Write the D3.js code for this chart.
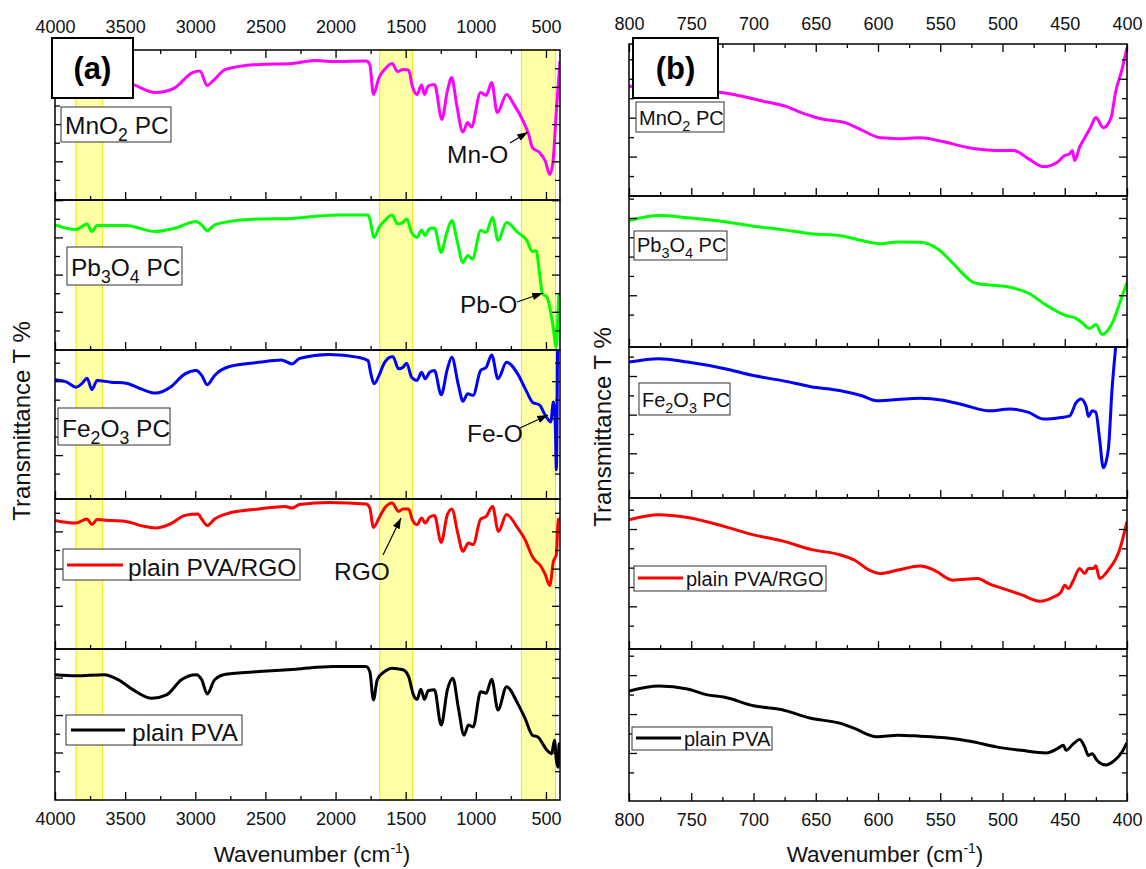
<!DOCTYPE html>
<html><head><meta charset="utf-8">
<script src="https://cdn.jsdelivr.net/npm/d3@7"></script>
<style>body{margin:0;background:#fff;} svg{display:block;font-family:"Liberation Sans",Arial,sans-serif;}</style>
</head><body><svg id="c" width="1146" height="869"></svg>
<script>
// ---------- DATA ----------
const tickLabelsA = [4000,3500,3000,2500,2000,1500,1000,500];
const tickLabelsB = [800,750,700,650,600,550,500,450,400];
const bandsA = [[3850,3660],[1685,1450],[675,432]];
const sampleNames = ["MnO2 PC","Pb3O4 PC","Fe2O3 PC","plain PVA/RGO","plain PVA"];
const seriesColors = ["#ff00ff","#00ff00","#0000ff","#ff0000","#000000"];

const mno2A = [[4000,62],[3800,61],[3600,60],[3449,57.8],[3284,53.7],[3152,55.8],[3020,63.7],[2967,64.5],[2915,57.3],[2875,59.5],[2783,65.3],[2546,67.8],[2309,68.3],[2151,69.8],[2019,69.2],[1782,69.5],[1756,67.8],[1730,52.8],[1690,61.2],[1650,65.3],[1597,68.3],[1558,64.2],[1519,65.3],[1479,65],[1453,57],[1419,52.8],[1387,57.5],[1366,52.8],[1340,57],[1295,57.8],[1242,40.3],[1203,54.5],[1172,61.2],[1137,47.8],[1092,34],[1058,38.7],[1032,36.5],[966,53.7],[926,52.3],[887,58.7],[847,43.7],[781,52.8],[729,47.8],[663,39.5],[623,32.8],[597,26.2],[545,23.7],[505,19.5],[473,12.8],[452,17.8],[426,44.5],[400,69.5]];
const pb3o4A = [[4000,62.5],[3850,60.2],[3771,63],[3737,59.2],[3700,62.2],[3600,62.2],[3494,62.2],[3284,59.2],[3152,60.8],[2994,64.2],[2954,62.5],[2915,59.7],[2862,62.5],[2757,64.2],[2546,65.5],[2309,65.8],[2151,66.8],[1967,67.5],[1769,67.5],[1756,65.5],[1725,56.3],[1690,61.3],[1650,64.7],[1597,67.5],[1558,63],[1519,63.8],[1493,65.5],[1458,58.8],[1419,56.3],[1387,60],[1361,57.2],[1334,60.5],[1295,61],[1247,48.8],[1210,58],[1171,64.7],[1131,53.8],[1092,43.8],[1058,47.2],[1024,45.5],[966,59.7],[926,58.8],[881,66.3],[842,54.7],[781,63.8],[702,58.8],[636,54.7],[597,49.2],[571,49.7],[545,38],[526,28.3],[492,26.3],[452,13],[426,1.3],[407,28],[400,28]];
const fe2o3A = [[4000,60],[3916,58.8],[3850,56.3],[3805,58.3],[3771,60.8],[3737,55],[3700,59.7],[3600,58.8],[3494,58.3],[3389,55.5],[3284,53.3],[3178,56.3],[3073,63],[2994,64.7],[2954,62.2],[2915,57.5],[2862,62.2],[2757,66.7],[2546,68.8],[2388,70],[2309,68],[2256,70.8],[2046,72.7],[1835,71.3],[1769,69.7],[1748,63],[1725,58],[1690,62.2],[1650,68.8],[1592,71.7],[1550,65.5],[1519,66.3],[1493,68.3],[1458,61.3],[1419,59.7],[1387,63.8],[1361,60.5],[1329,63.8],[1295,64.7],[1247,52.5],[1203,65.5],[1171,71.3],[1124,57.2],[1092,49.2],[1058,53],[1019,52.2],[966,64.7],[926,66.3],[887,72.5],[842,60.5],[781,68.8],[702,63],[636,53.8],[597,48.8],[545,47.2],[505,42.2],[466,38.8],[447,48.8],[434,38],[426,14.7],[420,50],[416,90],[400,120]];
const pvaRgoA = [[4000,64.3],[3850,63],[3771,65],[3737,62.2],[3700,64.7],[3600,64.2],[3494,63.8],[3389,61.7],[3284,60.5],[3178,62.5],[3073,66.8],[2981,67.5],[2954,65],[2915,61.7],[2862,65],[2757,68],[2546,70],[2362,71.3],[2309,70.5],[2256,72.2],[2046,73.3],[1782,72.5],[1756,70.5],[1730,60.8],[1690,65.5],[1650,70.5],[1597,73],[1550,68.8],[1519,70],[1479,70],[1453,64.7],[1419,62.2],[1387,65.5],[1361,63],[1329,66],[1295,66.7],[1247,53.3],[1203,67.2],[1171,70],[1129,58],[1092,48.8],[1053,53],[1019,52.2],[966,65],[926,66.3],[881,71.3],[839,58.8],[781,67.2],[702,60.5],[649,54.7],[597,46.3],[571,43.8],[545,42.2],[505,37.2],[473,31.7],[447,43.8],[426,47.2],[413,64.7],[400,65]];
const pvaA = [[4000,62.2],[3850,61.7],[3652,62.2],[3547,59.7],[3442,54.7],[3310,50.5],[3205,52.2],[3099,59.7],[2994,62.2],[2954,59.7],[2915,52.7],[2862,59.7],[2783,62.5],[2546,63.8],[2283,65],[2019,66.3],[1782,66.3],[1756,63.8],[1730,49.7],[1703,59.7],[1650,63.8],[1597,65.5],[1519,64.7],[1479,61.3],[1445,52.2],[1419,50],[1392,55],[1366,50],[1340,54.3],[1295,54.7],[1247,37.2],[1203,54.7],[1164,60.5],[1124,45.5],[1084,32.2],[1053,37.2],[1019,36.3],[966,53.8],[926,53],[887,60],[842,44.7],[781,56.3],[702,48],[649,40.5],[597,32.2],[558,31.3],[492,24.7],[460,23],[439,29.7],[426,19.7],[413,16.3],[407,28],[400,18]];

const mno2B = [[800,54.2],[776,53.5],[753,52.5],[729,51.3],[715,50],[694,47],[674,44.2],[660,40.8],[645,38],[627,36.3],[613,32.5],[598,28.7],[584,28.3],[566,28.7],[549,27],[526,23.7],[505,22.5],[491,22.5],[479,18.3],[467,14.5],[456,16.7],[450,20],[446,20.8],[444,22.5],[442,17.5],[438,24.2],[433,29.7],[429,34.2],[425,38.7],[419,33.7],[413,38.3],[409,51.7],[404,62.5],[400,73.3]];
const pb3o4B = [[800,62.8],[776,65.3],[753,64.2],[723,62.2],[700,60],[677,58.3],[654,56.3],[630,55.3],[616,53.3],[598,51.3],[584,52.2],[566,52],[552,48.7],[540,41.7],[531,35.8],[523,32],[511,30.8],[497,30],[479,26.7],[465,20.8],[450,15.8],[441,14.2],[437,12.5],[430,9.2],[425,11.2],[420,6.2],[412,11.7],[405,23.3],[400,32]];
const fe2o3B = [[800,67.5],[776,69.2],[753,67.5],[723,64.2],[700,60.8],[677,58.3],[654,55.3],[630,53.3],[613,50.8],[601,48.3],[578,49.2],[566,49.5],[549,48.7],[531,46.2],[511,43.3],[494,44.2],[479,42.5],[467,39.2],[453,40],[446,40.8],[441,47.2],[437,49.2],[433,45.8],[431,40.5],[428,43.3],[425,42.5],[422,29.2],[419,15],[415,24.2],[412,54.2],[409,75.8],[405,100]];
const pvaRgoB = [[800,64.2],[776,66.7],[753,65.3],[723,60.8],[700,56.7],[677,53.7],[654,49.5],[630,46.7],[619,44.2],[607,39.2],[598,37.5],[584,39.2],[566,41.2],[555,39.2],[540,34.2],[520,35],[511,32.5],[497,29.5],[485,27],[470,23.7],[459,25.8],[453,28.3],[450,31.7],[447,30],[443,34.2],[438,40],[434,37.5],[431,40],[427,40],[425,41.3],[422,35],[415,39.2],[406,49.2],[400,63.3]];
const pvaB = [[800,54.2],[776,56.7],[753,55.3],[738,52.5],[723,51.2],[700,47],[677,45],[654,40.8],[630,38.3],[619,35.8],[601,31.7],[584,32.5],[566,32],[546,31.2],[526,29.5],[505,26.7],[485,25],[465,23.7],[456,25.8],[451,27.5],[449,25],[443,28.3],[438,30.3],[434,26.7],[431,22.5],[428,23.3],[424,20],[417,17.8],[410,20],[404,24.2],[400,28.8]];

// ---------- LAYOUT ----------
const svg = d3.select("#c");
const defs = svg.append("defs");
defs.append("marker").attr("id","ah").attr("viewBox","0 0 10 10").attr("refX",10).attr("refY",5)
  .attr("markerWidth",9).attr("markerHeight",9).attr("orient","auto")
  .append("path").attr("d","M0,1.5 L10,5 L0,8.5 z").attr("fill","#000");

const FONT = '"Liberation Sans",Arial,sans-serif';

function rich(sel, parts, size){
  let prevSub = false;
  parts.forEach(([t,sub])=>{
    const ts = sel.append("tspan").text(t);
    if(sub && !prevSub){ ts.attr("dy", size*0.28).attr("font-size", size*0.72); }
    else if(!sub && prevSub){ ts.attr("dy", -size*0.28); }
    else if(sub){ ts.attr("font-size", size*0.72); }
    prevSub = sub;
  });
}
const nameParts = [
  [["MnO",0],["2",1],[" PC",0]],
  [["Pb",0],["3",1],["O",0],["4",1],[" PC",0]],
  [["Fe",0],["2",1],["O",0],["3",1],[" PC",0]],
  [["plain PVA/RGO",0]],
  [["plain PVA",0]]
];

const panelA = {
  id:"a", x0:55, x1:560, xDomain:[4000,400], bounds:[50,200,350,499,649,800],
  series:[mno2A,pb3o4A,fe2o3A,pvaRgoA,pvaA], tickOffsets:[0.75,0.5,3.5,3,5], tickStep:9.3,
  major:tickLabelsA, minor:d3.range(3750,400,-500), topPad:17, bands:bandsA,
  fs:24.5, letterBox:[52,38,81,60],
  labels:[
    {box:[61,107,110,35], tx:65, ty:134},
    {box:[67,247,115,38], tx:71, ty:276},
    {box:[58,408,112,37], tx:62, ty:437},
    {box:[63,549,237,31], tx:128, ty:576, line:[67,123,565]},
    {box:[66,715,176,30], tx:132, ty:741, line:[71,125,730]}
  ],
  titleX:312, yTitle:[30,421]
};
const panelB = {
  id:"b", x0:629, x1:1127, xDomain:[800,400], bounds:[44,196,347,498,649,801],
  series:[mno2B,pb3o4B,fe2o3B,pvaRgoB,pvaB], tickOffsets:[0.25,6.5,3,2,4.5], tickStep:9.6,
  major:tickLabelsB, minor:d3.range(775,400,-50), topPad:14, bands:[],
  fs:20, letterBox:[633,38,85,60],
  labels:[
    {box:[636,102,88,30], tx:639, ty:125},
    {box:[634,231,93,29], tx:637, ty:252},
    {box:[639,383,91,32], tx:642, ty:407},
    {box:[634,566,192,25], tx:686, ty:586, line:[638,683,578]},
    {box:[632,727,140,23], tx:684, ty:746, line:[636,681,738]}
  ],
  titleX:885, yTitle:[611,427]
};

function drawPanel(P){
  const g = svg.append("g");
  const x = d3.scaleLinear().domain(P.xDomain).range([P.x0,P.x1]);
  const top = P.bounds[0], bottom = P.bounds[5];

  g.selectAll("rect.band").data(P.bands).join("rect").attr("class","band")
    .attr("x",d=>x(d[0])).attr("width",d=>x(d[1])-x(d[0]))
    .attr("y",top).attr("height",bottom-top)
    .attr("fill","#ffffa6").attr("stroke","#f2e600").attr("stroke-width",1);

  for(let i=0;i<5;i++){
    const t = P.bounds[i], b = P.bounds[i+1];
    const y = d3.scaleLinear().domain([0,75]).range([b,t]);
    const cid = "clip"+P.id+i;
    defs.append("clipPath").attr("id",cid).append("rect")
      .attr("x",P.x0).attr("y",t).attr("width",P.x1-P.x0).attr("height",b-t);
    const line = d3.line().x(d=>x(d[0])).y(d=>y(d[1])).curve(d3.curveMonotoneX);
    g.append("path").datum(P.series[i]).attr("d",line).attr("clip-path",`url(#${cid})`)
      .attr("fill","none").attr("stroke",seriesColors[i]).attr("stroke-width",3)
      .attr("stroke-linejoin","round");

    const vals = d3.range(P.tickOffsets[i]+P.tickStep, 75, P.tickStep);
    const maj = vals.filter((v,k)=>k%2===1), mnr = vals.filter((v,k)=>k%2===0);
    [[maj,8],[mnr,5]].forEach(([tv,len])=>{
      const gl = g.append("g").attr("transform",`translate(${P.x0},0)`)
        .call(d3.axisLeft(y).tickValues(tv).tickSizeInner(-len).tickSizeOuter(0).tickFormat(""));
      gl.select(".domain").remove();
      const gr = g.append("g").attr("transform",`translate(${P.x1},0)`)
        .call(d3.axisRight(y).tickValues(tv).tickSizeInner(-len).tickSizeOuter(0).tickFormat(""));
      gr.select(".domain").remove();
    });
    [[P.major,8],[P.minor,4]].forEach(([tv,len])=>{
      const ax = g.append("g").attr("transform",`translate(0,${b})`)
        .call(d3.axisBottom(x).tickValues(tv).tickSizeInner(-len).tickSizeOuter(0).tickFormat(""));
      ax.select(".domain").remove();
    });
    g.append("rect").attr("x",P.x0).attr("y",t).attr("width",P.x1-P.x0).attr("height",b-t)
      .attr("fill","none").attr("stroke","#000").attr("stroke-width",1.5);
  }

  const ta = g.append("g").attr("transform",`translate(0,${top})`)
    .call(d3.axisTop(x).tickValues(P.major).tickSizeInner(-8).tickSizeOuter(0).tickPadding(P.topPad).tickFormat(d3.format("d")));
  ta.select(".domain").remove();
  const tm = g.append("g").attr("transform",`translate(0,${top})`)
    .call(d3.axisTop(x).tickValues(P.minor).tickSizeInner(-4).tickSizeOuter(0).tickFormat(""));
  tm.select(".domain").remove();
  const ba = g.append("g").attr("transform",`translate(0,${bottom})`)
    .call(d3.axisBottom(x).tickValues(P.major).tickSizeInner(0).tickSizeOuter(0).tickPadding(12).tickFormat(d3.format("d")));
  ba.select(".domain").remove();
  g.selectAll(".tick text").attr("font-size",18).attr("font-family",FONT).attr("fill","#111");
  g.selectAll(".tick line").attr("stroke","#000").attr("stroke-width",1.3);

  const wt = g.append("text").attr("x",P.titleX).attr("y",862).attr("text-anchor","middle")
    .attr("font-size",22.5).attr("font-family",FONT).attr("fill","#111");
  wt.append("tspan").text("Wavenumber (cm");
  wt.append("tspan").text("-1").attr("font-size",14).attr("dy",-9);
  wt.append("tspan").text(")").attr("dy",9);
  g.append("text").attr("transform",`translate(${P.yTitle[0]},${P.yTitle[1]}) rotate(-90)`)
    .attr("text-anchor","middle").attr("font-size",24).attr("font-family",FONT).attr("fill","#111")
    .text("Transmittance T %");

  P.labels.forEach((L,i)=>{
    g.append("rect").attr("x",L.box[0]).attr("y",L.box[1]).attr("width",L.box[2]).attr("height",L.box[3])
      .attr("fill","#fff").attr("stroke","#333").attr("stroke-width",1);
    if(L.line){
      g.append("line").attr("x1",L.line[0]).attr("x2",L.line[1]).attr("y1",L.line[2]).attr("y2",L.line[2])
        .attr("stroke",seriesColors[i]).attr("stroke-width",3);
    }
    const t = g.append("text").attr("x",L.tx).attr("y",L.ty).attr("font-size",P.fs)
      .attr("font-family",FONT).attr("fill","#111");
    rich(t, nameParts[i], P.fs);
  });

  const lb = P.letterBox;
  g.append("rect").attr("x",lb[0]).attr("y",lb[1]).attr("width",lb[2]).attr("height",lb[3])
    .attr("fill","#fff").attr("stroke","#000").attr("stroke-width",2);
  g.append("text").attr("x",lb[0]+lb[2]/2).attr("y",lb[1]+lb[3]/2+11).attr("text-anchor","middle")
    .attr("font-size",31).attr("font-weight","bold").attr("font-family",FONT).attr("fill","#000")
    .text(`(${P.id})`);
  return x;
}

drawPanel(panelA);
drawPanel(panelB);

const notes = [
  {t:"Mn-O", tx:447, ty:163, a:[510,143,528,132]},
  {t:"Pb-O", tx:460, ty:313, a:[517,302,543,293]},
  {t:"Fe-O", tx:467, ty:442, a:[520,428,548,415]},
  {t:"RGO",  tx:334, ty:580, a:[383,555,401,518]}
];
notes.forEach(n=>{
  svg.append("text").attr("x",n.tx).attr("y",n.ty).attr("font-size",24.5).attr("font-family",FONT)
    .attr("fill","#111").text(n.t);
  svg.append("line").attr("x1",n.a[0]).attr("y1",n.a[1]).attr("x2",n.a[2]).attr("y2",n.a[3])
    .attr("stroke","#000").attr("stroke-width",1.2).attr("marker-end","url(#ah)");
});
</script></body></html>
